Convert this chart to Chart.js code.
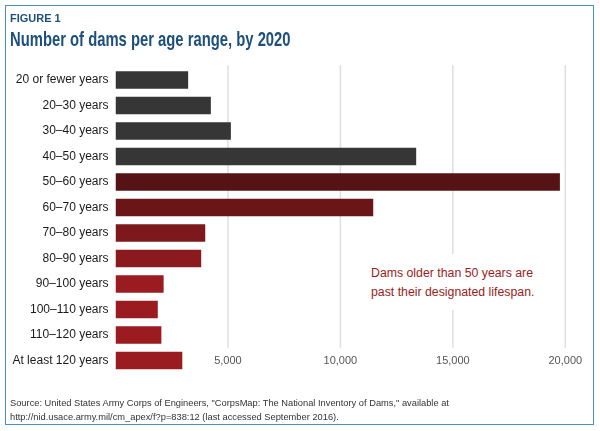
<!DOCTYPE html>
<html lang="en">
<head>
<meta charset="UTF-8">
<title>Number of dams per age range, by 2020</title>
<style>
  body { margin: 0; background: #fff; font-family: 'Liberation Sans', Arial, sans-serif; }
  .wrap { position: relative; width: 600px; height: 431px; overflow: hidden; }
  .frame { position: absolute; left: 5px; top: 5px; width: 587px; height: 418px; border: 1.5px solid #4b8fc8; }
  canvas { position: absolute; left: 0; top: 0; }
  .fig { position: absolute; left: 10px; top: 12px; font-size: 11px; font-weight: bold; color: #1d4f7c; }
  .title { position: absolute; left: 10px; top: 27px; font-size: 21px; font-weight: bold; color: #1d4f7c;
           white-space: nowrap; transform: scaleX(0.705); transform-origin: left top; }
  .note { position: absolute; left: 366px; top: 254px; width: 178px; height: 56px; background: #fff;
          padding: 10px 0 0 5px; box-sizing: border-box; font-size: 12.3px; line-height: 18.5px; color: #9b1c20; }
  .source { position: absolute; left: 10px; top: 396px; font-size: 9.3px; line-height: 14px; color: #333; white-space: nowrap; }
</style>
<script src="https://cdn.jsdelivr.net/npm/chart.js"></script>
</head>
<body>
<div class="wrap">
  <canvas id="chart" width="600" height="431"></canvas>
  <div class="frame"></div>
  <div class="fig">FIGURE 1</div>
  <div class="title">Number of dams per age range, by 2020</div>
  <div class="note">Dams older than 50 years are<br>past their designated lifespan.</div>
  <div class="source">Source: United States Army Corps of Engineers, "CorpsMap: The National Inventory of Dams," available at<br>http://nid.usace.army.mil/cm_apex/f?p=838:12 (last accessed September 2016).</div>
</div>
<script>
  // data
  const ageRanges = ['20 or fewer years', '20–30 years', '30–40 years', '40–50 years', '50–60 years', '60–70 years',
    '70–80 years', '80–90 years', '90–100 years', '100–110 years', '110–120 years', 'At least 120 years'];
  const damCounts = [3230, 4240, 5130, 13370, 19760, 11460, 3990, 3810, 2140, 1880, 2040, 2970];
  const xTickValues = [5000, 10000, 15000, 20000];

  const barColors = ['#363636', '#363636', '#363636', '#363636', '#551315', '#6a1518',
    '#7d181c', '#8a1a1e', '#9a1c20', '#9a1c20', '#9a1c20', '#9a1c20'];

  // gridlines stop above the last row, where the tick labels sit
  const gridPlugin = {
    id: 'rowGrid',
    beforeDatasetsDraw(chart) {
      const { ctx, chartArea, scales } = chart;
      const n = ageRanges.length;
      const yEnd = (scales.y.getPixelForValue(n - 2) + scales.y.getPixelForValue(n - 1)) / 2;
      ctx.save();
      ctx.strokeStyle = '#dedede';
      ctx.lineWidth = 1.5;
      xTickValues.forEach((v) => {
        const x = scales.x.getPixelForValue(v);
        ctx.beginPath();
        ctx.moveTo(x, chartArea.top - 2);
        ctx.lineTo(x, yEnd);
        ctx.stroke();
      });
      ctx.restore();
    }
  };

  new Chart(document.getElementById('chart'), {
    type: 'bar',
    data: {
      labels: ageRanges,
      datasets: [{
        data: damCounts,
        backgroundColor: barColors,
        borderWidth: 0,
        categoryPercentage: 1,
        barPercentage: 0.69
      }]
    },
    options: {
      indexAxis: 'y',
      responsive: false,
      animation: false,
      layout: { padding: { left: 5, right: 34.7, top: 67.25, bottom: 57.75 } },
      plugins: { legend: { display: false }, tooltip: { enabled: false } },
      scales: {
        x: {
          min: 0,
          max: 20000,
          afterBuildTicks: (scale) => { scale.ticks = xTickValues.map((v) => ({ value: v })); },
          afterFit: (scale) => { scale.height = 0; },
          grid: { display: false, drawTicks: false },
          border: { display: false },
          ticks: {
            mirror: true,
            padding: 5.5,
            color: '#555',
            font: { family: "'Liberation Sans', Arial", size: 11 },
            callback: (v) => v.toLocaleString('en-US')
          }
        },
        y: {
          afterFit: (scale) => { scale.width = 110.5; },
          grid: { display: false, drawTicks: false },
          border: { display: false },
          ticks: {
            padding: 7,
            color: '#1a1a1a',
            font: { family: "'Liberation Sans', Arial", size: 12 }
          }
        }
      }
    },
    plugins: [gridPlugin]
  });
</script>
</body>
</html>
